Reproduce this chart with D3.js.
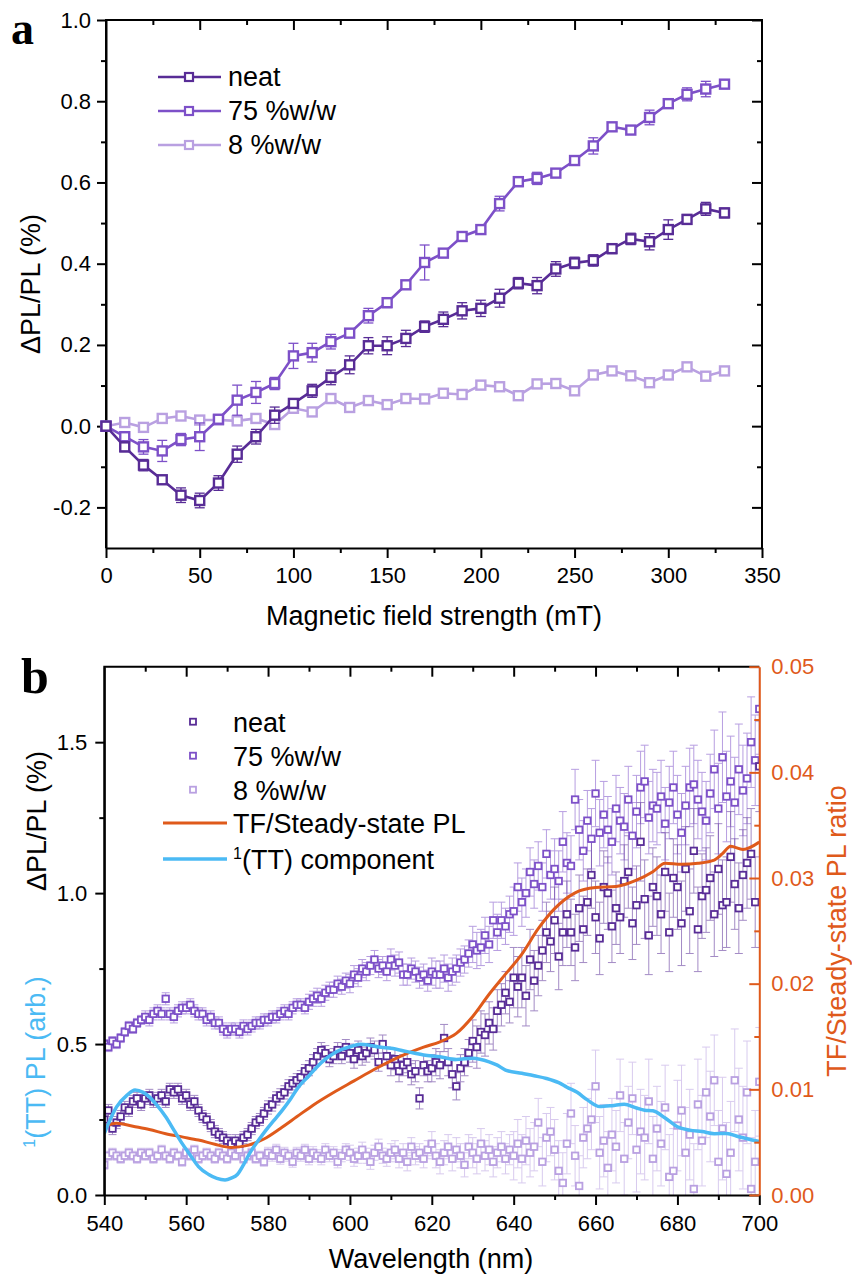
<!DOCTYPE html>
<html lang="en">
<head>
<meta charset="UTF-8">
<title>Magnetic field effect on PL</title>
<script src="https://d3js.org/d3.v7.min.js"></script>
<style>
  body { margin: 0; background: #fff; }
  svg { display: block; }
</style>
</head>
<body>
<svg id="chart" width="852" height="1276"></svg>
<script>
// ---------- panel a: dPL/PL vs magnetic field ----------
const fieldMT = [0,10,20,30,40,50,60,70,80,90,100,110,120,130,140,150,160,170,180,190,200,210,220,230,240,250,260,270,280,290,300,310,320,330];
const neatA = [0,-0.051,-0.096,-0.132,-0.170,-0.183,-0.140,-0.069,-0.026,0.027,0.056,0.087,0.120,0.151,0.198,0.198,0.216,0.245,0.263,0.284,0.290,0.315,0.352,0.346,0.387,0.402,0.408,0.437,0.461,0.454,0.484,0.509,0.535,0.525];
const w75A = [0,-0.026,-0.051,-0.061,-0.033,-0.026,0.017,0.064,0.083,0.105,0.173,0.181,0.208,0.229,0.272,0.304,0.348,0.403,0.426,0.467,0.484,0.548,0.602,0.610,0.623,0.654,0.690,0.737,0.729,0.760,0.794,0.817,0.830,0.842];
const w8A = [0,0.009,-0.003,0.019,0.025,0.015,0.015,0.013,0.019,0.004,0.044,0.035,0.068,0.046,0.063,0.053,0.068,0.067,0.081,0.078,0.101,0.097,0.075,0.104,0.105,0.087,0.126,0.136,0.124,0.107,0.126,0.146,0.123,0.136];
const neatErrA = [0,0.012,0.014,0.010,0.018,0.018,0.018,0.020,0.018,0.020,0.010,0.016,0.018,0.022,0.020,0.022,0.020,0.014,0.018,0.020,0.020,0.022,0.014,0.020,0.018,0.014,0.014,0.012,0.014,0.020,0.024,0.012,0.016,0.012];
const w75ErrA = [0,0.012,0.018,0.026,0.015,0.034,0.010,0.037,0.027,0.015,0.031,0.023,0.018,0.010,0.018,0.012,0.010,0.043,0.010,0.010,0.008,0.018,0.012,0.015,0.008,0.010,0.020,0.010,0.008,0.018,0.010,0.016,0.019,0.010];
const w8ErrA = [0,0.006,0.005,0.006,0.006,0.005,0.006,0.005,0.006,0.005,0.006,0.005,0.006,0.005,0.006,0.005,0.006,0.005,0.006,0.005,0.006,0.005,0.006,0.005,0.006,0.005,0.006,0.008,0.006,0.005,0.006,0.006,0.005,0.006];

// ---------- panel b: dPL/PL spectra ----------
const waveStart = 540, waveEnd = 700;
const neatB = [
  0.25,0.28,0.22,0.24,0.26,0.29,0.28,0.31,0.32,0.30,
  0.32,0.33,0.31,0.32,0.33,0.31,0.35,0.34,0.35,0.32,
  0.33,0.30,0.31,0.28,0.26,0.25,0.23,0.21,0.20,0.19,
  0.18,0.17,0.18,0.17,0.19,0.20,0.22,0.24,0.25,0.27,
  0.29,0.30,0.32,0.33,0.34,0.36,0.37,0.38,0.39,0.41,
  0.42,0.44,0.46,0.48,0.47,0.45,0.46,0.48,0.46,0.49,
  0.47,0.45,0.48,0.46,0.47,0.49,0.48,0.44,0.50,0.46,
  0.43,0.45,0.41,0.43,0.44,0.40,0.41,0.32,0.43,0.41,
  0.42,0.44,0.43,0.52,0.44,0.40,0.36,0.42,0.44,0.47,
  0.51,0.49,0.54,0.53,0.57,0.55,0.61,0.63,0.67,0.64,
  0.72,0.69,0.72,0.66,0.78,0.71,0.76,0.81,0.87,0.84,
  0.91,0.79,0.87,0.93,0.87,0.82,0.95,0.88,0.97,1.06,
  0.92,0.85,1.02,1.00,0.89,0.95,0.92,1.04,1.07,0.90,
  0.96,1.17,0.98,0.86,1.02,0.99,0.93,1.07,0.87,1.05,
  1.02,0.90,1.08,0.94,1.14,0.88,0.99,1.01,1.05,0.93,
  1.08,0.96,0.97,1.12,1.03,0.95,1.06,1.10,1.13,0.97,
  1.42];
const w75B = [
  0.50,0.49,0.51,0.50,0.52,0.54,0.56,0.55,0.57,0.58,
  0.59,0.58,0.60,0.61,0.60,0.65,0.60,0.59,0.61,0.62,
  0.62,0.63,0.61,0.60,0.60,0.58,0.59,0.57,0.57,0.55,
  0.54,0.55,0.55,0.54,0.56,0.55,0.56,0.57,0.57,0.58,
  0.58,0.59,0.59,0.60,0.61,0.60,0.62,0.63,0.63,0.62,
  0.64,0.65,0.66,0.65,0.67,0.68,0.68,0.70,0.69,0.71,
  0.70,0.73,0.72,0.75,0.74,0.76,0.78,0.75,0.76,0.74,
  0.78,0.76,0.77,0.73,0.73,0.75,0.74,0.72,0.73,0.71,
  0.74,0.73,0.73,0.75,0.72,0.74,0.75,0.77,0.78,0.80,
  0.83,0.81,0.82,0.86,0.83,0.91,0.87,0.91,0.89,0.93,
  0.94,1.02,0.97,1.00,1.07,1.03,1.09,1.02,1.13,1.06,
  1.08,1.04,1.17,1.10,1.09,1.31,1.21,1.14,1.24,1.18,
  1.33,1.20,1.26,1.21,1.17,1.28,1.24,1.22,1.31,1.19,
  1.27,1.35,1.37,1.25,1.29,1.28,1.32,1.23,1.30,1.35,
  1.26,1.20,1.29,1.35,1.36,1.31,1.27,1.24,1.33,1.41,
  1.28,1.45,1.32,1.37,1.30,1.41,1.34,1.38,1.50,1.44,
  1.61];
const w8B = [
  0.10,0.13,0.14,0.13,0.12,0.13,0.14,0.13,0.12,0.14,
  0.13,0.14,0.12,0.13,0.15,0.13,0.12,0.14,0.13,0.11,
  0.14,0.13,0.15,0.12,0.13,0.14,0.13,0.12,0.14,0.13,
  0.12,0.14,0.13,0.15,0.12,0.13,0.14,0.12,0.13,0.11,
  0.14,0.13,0.15,0.12,0.14,0.13,0.11,0.14,0.13,0.15,
  0.12,0.14,0.13,0.12,0.15,0.13,0.14,0.11,0.13,0.15,
  0.14,0.12,0.13,0.15,0.13,0.11,0.14,0.16,0.13,0.12,
  0.14,0.15,0.12,0.14,0.11,0.16,0.13,0.14,0.12,0.15,
  0.17,0.13,0.11,0.14,0.16,0.12,0.15,0.13,0.10,0.16,
  0.14,0.12,0.17,0.13,0.15,0.11,0.14,0.16,0.12,0.15,
  0.13,0.17,0.12,0.18,0.14,0.16,0.24,0.11,0.19,0.21,
  0.15,0.08,0.04,0.17,0.27,0.13,0.03,0.19,0.22,0.25,
  0.36,0.14,0.18,0.09,0.20,0.16,0.33,0.12,0.24,0.32,
  0.15,0.21,0.19,0.31,0.12,0.22,0.17,0.29,0.06,0.08,
  0.23,0.28,0.14,0.20,0.02,0.30,0.18,0.34,0.26,0.38,
  0.11,0.22,0.07,0.14,0.38,0.25,0.19,0.34,0.02,0.11,
  0.375];
// error half-widths per 10 nm bin (540, 550, ... 700)
const neatErrB = [0.02,0.02,0.02,0.02,0.022,0.025,0.03,0.035,0.045,0.07,0.10,0.11,0.12,0.13,0.14,0.15,0.15];
const w75ErrB = [0.015,0.02,0.02,0.02,0.02,0.025,0.03,0.035,0.045,0.06,0.08,0.10,0.11,0.12,0.13,0.15,0.15];
const w8ErrB = [0.015,0.015,0.015,0.015,0.018,0.02,0.025,0.03,0.04,0.05,0.08,0.10,0.12,0.14,0.15,0.17,0.18];

// TF / steady-state PL ratio (right axis)
const tfWave = [540,543,547,551,555,559,563,567,571,575,579,583,587,591,596,601,606,610,614,618,622,626,630,634,638,642,646,650,655,660,665,670,674,677,681,685,689,691,693,696,700];
const tfRatio = [0.0065,0.0068,0.0065,0.0062,0.0058,0.0055,0.0052,0.0048,0.0045,0.0047,0.0053,0.0063,0.0074,0.0085,0.0097,0.0108,0.0119,0.0127,0.0134,0.0140,0.0145,0.0153,0.0169,0.0190,0.0209,0.0228,0.0252,0.0271,0.0286,0.0291,0.0292,0.0298,0.0306,0.0314,0.0313,0.0314,0.0317,0.0323,0.0330,0.0327,0.0334];
// 1(TT) component (left axis, arb.)
const ttWave = [540,543,545.5,547.5,549.5,551,553,555,557,559,561,563,565.5,567.5,569.5,571,572.5,574,575.5,577.5,579.5,581.5,583.5,585.5,587.5,590,592,594,596,598,600,602.5,604.5,607,610,614,618,622,626,630,634,636,638,642,645,648,651,653,655.5,658,661,664,667,670,672,674,677,680,683,686,689,692,695,698,700];
const ttPL = [0.204,0.292,0.33,0.348,0.340,0.325,0.295,0.259,0.215,0.171,0.132,0.094,0.068,0.055,0.050,0.056,0.068,0.100,0.138,0.178,0.215,0.248,0.281,0.318,0.359,0.395,0.425,0.450,0.469,0.482,0.491,0.499,0.497,0.490,0.486,0.475,0.464,0.458,0.449,0.453,0.441,0.430,0.414,0.403,0.395,0.386,0.372,0.357,0.340,0.315,0.293,0.296,0.301,0.288,0.281,0.279,0.255,0.226,0.215,0.210,0.203,0.204,0.193,0.183,0.177];

const seriesNames = ['neat', '75 %w/w', '8 %w/w'];
const seriesColors = ['#582c96', '#7d50c8', '#b9a0e1'];
const tfColor = '#df5a1b';
const ttColor = '#4bbaf4';

const font = '"Liberation Sans", Arial, Helvetica, sans-serif';
const svg = d3.select('#chart');

function styleAxis(g, color) {
  g.attr('font-size', 22).attr('font-family', font);
  g.select('.domain').attr('stroke', color).attr('stroke-width', 2);
  g.selectAll('.tick line').attr('stroke', color).attr('stroke-width', 2);
  g.selectAll('.tick text').attr('fill', color);
  return g;
}
function noLabels(g) { g.selectAll('.tick text').remove(); g.select('.domain').remove(); return g; }

function squareMarkers(g, pts, size, color, sw) {
  g.selectAll('rect.m').data(pts).enter().append('rect')
    .attr('class', 'm')
    .attr('x', d => d[0] - size / 2).attr('y', d => d[1] - size / 2)
    .attr('width', size).attr('height', size)
    .attr('fill', '#fff').attr('stroke', color).attr('stroke-width', sw);
}

function errorBars(g, pts, color, cap, sw, opacity) {
  const eb = g.append('g').attr('stroke', color).attr('stroke-width', sw).attr('opacity', opacity);
  pts.forEach(p => {
    eb.append('line').attr('x1', p.x).attr('x2', p.x).attr('y1', p.lo).attr('y2', p.hi);
    eb.append('line').attr('x1', p.x - cap / 2).attr('x2', p.x + cap / 2).attr('y1', p.lo).attr('y2', p.lo);
    eb.append('line').attr('x1', p.x - cap / 2).attr('x2', p.x + cap / 2).attr('y1', p.hi).attr('y2', p.hi);
  });
}

// ================= PANEL A =================
const ax = d3.scaleLinear().domain([0, 350]).range([106, 762]);
const ay = d3.scaleLinear().domain([-0.3, 1.0]).range([548, 20]);
const aMajX = [0, 50, 100, 150, 200, 250, 300, 350];
const aMinX = [25, 75, 125, 175, 225, 275, 325];
const aMajY = [-0.2, 0, 0.2, 0.4, 0.6, 0.8, 1.0];
const aMinY = [-0.1, 0.1, 0.3, 0.5, 0.7, 0.9];

const ga = svg.append('g');
styleAxis(ga.append('g').attr('transform', 'translate(0,548)')
  .call(d3.axisBottom(ax).tickValues(aMajX).tickSizeInner(10).tickSizeOuter(0).tickPadding(9).tickFormat(d3.format('d'))), '#000');
styleAxis(noLabels(ga.append('g').attr('transform', 'translate(0,548)')
  .call(d3.axisBottom(ax).tickValues(aMinX).tickSize(5))), '#000');
styleAxis(ga.append('g').attr('transform', 'translate(106,0)')
  .call(d3.axisLeft(ay).tickValues(aMajY).tickSizeInner(9).tickSizeOuter(0).tickPadding(6).tickFormat(d => d.toFixed(1))), '#000');
styleAxis(noLabels(ga.append('g').attr('transform', 'translate(106,0)')
  .call(d3.axisLeft(ay).tickValues(aMinY).tickSize(5))), '#000');
styleAxis(noLabels(ga.append('g').attr('transform', 'translate(0,20)')
  .call(d3.axisTop(ax).tickValues(aMajX.slice(1, -1)).tickSizeInner(-10).tickSizeOuter(0))), '#000');
styleAxis(noLabels(ga.append('g').attr('transform', 'translate(0,20)')
  .call(d3.axisTop(ax).tickValues(aMinX).tickSize(-5))), '#000');
styleAxis(noLabels(ga.append('g').attr('transform', 'translate(762,0)')
  .call(d3.axisRight(ay).tickValues(aMajY).tickSizeInner(-10).tickSizeOuter(0))), '#000');
styleAxis(noLabels(ga.append('g').attr('transform', 'translate(762,0)')
  .call(d3.axisRight(ay).tickValues(aMinY).tickSize(-5))), '#000');
// frame
ga.append('path').attr('d', `M106,548V20H762V548`).attr('fill', 'none').attr('stroke', '#000').attr('stroke-width', 2);

const aData = [[neatA, neatErrA], [w75A, w75ErrA], [w8A, w8ErrA]];
// draw 8% first so darker series sit on top
[2, 1, 0].forEach(i => {
  const [vals, errs] = aData[i];
  const col = seriesColors[i];
  const g = ga.append('g');
  errorBars(g, fieldMT.map((f, k) => ({ x: ax(f), lo: ay(vals[k] - errs[k]), hi: ay(vals[k] + errs[k]) })), col, 10, 1.3, 1);
  g.append('path')
    .attr('d', d3.line()(fieldMT.map((f, k) => [ax(f), ay(vals[k])])))
    .attr('fill', 'none').attr('stroke', col).attr('stroke-width', 2.6);
  squareMarkers(g, fieldMT.map((f, k) => [ax(f), ay(vals[k])]), 9, col, 2.4);
});

// legend a
seriesNames.forEach((name, i) => {
  const y = 77 + i * 34;
  ga.append('line').attr('x1', 158).attr('x2', 221).attr('y1', y).attr('y2', y)
    .attr('stroke', seriesColors[i]).attr('stroke-width', 2.6);
  ga.append('rect').attr('x', 185).attr('y', y - 4).attr('width', 8).attr('height', 8)
    .attr('fill', '#fff').attr('stroke', seriesColors[i]).attr('stroke-width', 2.2);
  ga.append('text').attr('x', 228).attr('y', y + 9).attr('font-family', font).attr('font-size', 27)
    .text(name);
});

ga.append('text').attr('x', 434).attr('y', 625).attr('text-anchor', 'middle')
  .attr('font-family', font).attr('font-size', 27).text('Magnetic field strength (mT)');
ga.append('text').attr('transform', 'translate(40,284) rotate(-90)').attr('text-anchor', 'middle')
  .attr('font-family', font).attr('font-size', 27).text('ΔPL/PL (%)');
ga.append('text').attr('x', 11).attr('y', 44).attr('font-family', '"Liberation Serif", "Times New Roman", serif')
  .attr('font-weight', 'bold').attr('font-size', 46).text('a');

// ================= PANEL B =================
const bx = d3.scaleLinear().domain([540, 700]).range([104.3, 759.3]);
const byL = d3.scaleLinear().domain([0, 1.75]).range([1195, 666.7]);
const byR = d3.scaleLinear().domain([0, 0.05]).range([1195, 666.7]);
const bMajX = [540, 560, 580, 600, 620, 640, 660, 680, 700];
const bMinX = [550, 570, 590, 610, 630, 650, 670, 690];
const bMajY = [0, 0.5, 1.0, 1.5];
const bMinY = [0.25, 0.75, 1.25];
const bMajR = [0, 0.01, 0.02, 0.03, 0.04, 0.05];
const bMinR = [0.005, 0.015, 0.025, 0.035, 0.045];

const gb = svg.append('g');
svg.append('defs').append('clipPath').attr('id', 'clipB')
  .append('rect').attr('x', 104.3).attr('y', 666.7).attr('width', 655).attr('height', 528.3);

const waves = d3.range(waveStart, waveEnd + 1);
const plotB = gb.append('g').attr('clip-path', 'url(#clipB)');
const bData = [[neatB, neatErrB], [w75B, w75ErrB], [w8B, w8ErrB]];
const binOf = w => Math.floor((w - waveStart) / 10);
[2, 1, 0].forEach(i => {
  const [vals, errs] = bData[i];
  errorBars(plotB, waves.map((w, k) => ({ x: bx(w), lo: byL(vals[k] - errs[binOf(w)]), hi: byL(vals[k] + errs[binOf(w)]) })),
    seriesColors[i], 8, 1, 0.55);
});
[2, 1, 0].forEach(i => {
  const vals = bData[i][0];
  squareMarkers(plotB.append('g'), waves.map((w, k) => [bx(w), byL(vals[k])]), 6.5, seriesColors[i], 1.8);
});
plotB.append('path')
  .attr('d', d3.line().curve(d3.curveMonotoneX)(tfWave.map((w, k) => [bx(w), byR(tfRatio[k])])))
  .attr('fill', 'none').attr('stroke', tfColor).attr('stroke-width', 3);
plotB.append('path')
  .attr('d', d3.line().curve(d3.curveMonotoneX)(ttWave.map((w, k) => [bx(w), byL(ttPL[k])])))
  .attr('fill', 'none').attr('stroke', ttColor).attr('stroke-width', 3.5);

styleAxis(gb.append('g').attr('transform', 'translate(0,1195)')
  .call(d3.axisBottom(bx).tickValues(bMajX).tickSizeInner(10).tickSizeOuter(0).tickPadding(10).tickFormat(d3.format('d'))), '#000');
styleAxis(noLabels(gb.append('g').attr('transform', 'translate(0,1195)')
  .call(d3.axisBottom(bx).tickValues(bMinX).tickSize(5))), '#000');
styleAxis(gb.append('g').attr('transform', 'translate(104.3,0)')
  .call(d3.axisLeft(byL).tickValues(bMajY).tickSizeInner(9).tickSizeOuter(0).tickPadding(8).tickFormat(d => d.toFixed(1))), '#000');
styleAxis(noLabels(gb.append('g').attr('transform', 'translate(104.3,0)')
  .call(d3.axisLeft(byL).tickValues(bMinY).tickSize(5))), '#000');
styleAxis(noLabels(gb.append('g').attr('transform', 'translate(0,666.7)')
  .call(d3.axisTop(bx).tickValues(bMajX.slice(1, -1)).tickSizeInner(-10).tickSizeOuter(0))), '#000');
styleAxis(noLabels(gb.append('g').attr('transform', 'translate(0,666.7)')
  .call(d3.axisTop(bx).tickValues(bMinX).tickSize(-5))), '#000');
gb.append('path').attr('d', 'M104.3,1195V666.7H759.3').attr('fill', 'none').attr('stroke', '#000').attr('stroke-width', 2);
styleAxis(gb.append('g').attr('transform', 'translate(759.3,0)')
  .call(d3.axisRight(byR).tickValues(bMajR).tickSizeInner(-10).tickSizeOuter(0).tickPadding(12).tickFormat(d => d.toFixed(2))), tfColor);
styleAxis(noLabels(gb.append('g').attr('transform', 'translate(759.3,0)')
  .call(d3.axisRight(byR).tickValues(bMinR).tickSize(-5))), tfColor);

// legend b
seriesNames.forEach((name, i) => {
  const y = 721.7 + i * 34;
  gb.append('rect').attr('x', 190).attr('y', y - 3).attr('width', 6).attr('height', 6)
    .attr('fill', '#fff').attr('stroke', seriesColors[i]).attr('stroke-width', 1.8);
  gb.append('text').attr('x', 233).attr('y', y + 10).attr('font-family', font).attr('font-size', 27).text(name);
});
[['TF/Steady-state PL', tfColor, 3], [null, ttColor, 3.5]].forEach((d, j) => {
  const y = 823 + j * 36;
  gb.append('line').attr('x1', 163).attr('x2', 227).attr('y1', y).attr('y2', y)
    .attr('stroke', d[1]).attr('stroke-width', d[2]);
  const t = gb.append('text').attr('x', 233).attr('y', y + 10).attr('font-family', font).attr('font-size', 27);
  if (d[0]) t.text(d[0]);
  else {
    t.append('tspan').attr('font-size', 16).attr('dy', -10).text('1');
    t.append('tspan').attr('dy', 10).text('(TT) component');
  }
});

gb.append('text').attr('x', 431).attr('y', 1268).attr('text-anchor', 'middle')
  .attr('font-family', font).attr('font-size', 27).text('Wavelength (nm)');
gb.append('text').attr('transform', 'translate(46,821) rotate(-90)').attr('text-anchor', 'middle')
  .attr('font-family', font).attr('font-size', 27).text('ΔPL/PL (%)');
const ttLabel = gb.append('text').attr('transform', 'translate(45,1062) rotate(-90)').attr('text-anchor', 'middle')
  .attr('font-family', font).attr('font-size', 27).attr('fill', ttColor);
ttLabel.append('tspan').attr('font-size', 16).attr('dy', -10).text('1');
ttLabel.append('tspan').attr('dy', 10).text('(TT) PL (arb.)');
gb.append('text').attr('transform', 'translate(846,931) rotate(-90)').attr('text-anchor', 'middle')
  .attr('font-family', font).attr('font-size', 27).attr('fill', tfColor).text('TF/Steady-state PL ratio');
gb.append('text').attr('x', 21).attr('y', 693).attr('font-family', '"Liberation Serif", "Times New Roman", serif')
  .attr('font-weight', 'bold').attr('font-size', 50).text('b');
</script>
</body>
</html>
